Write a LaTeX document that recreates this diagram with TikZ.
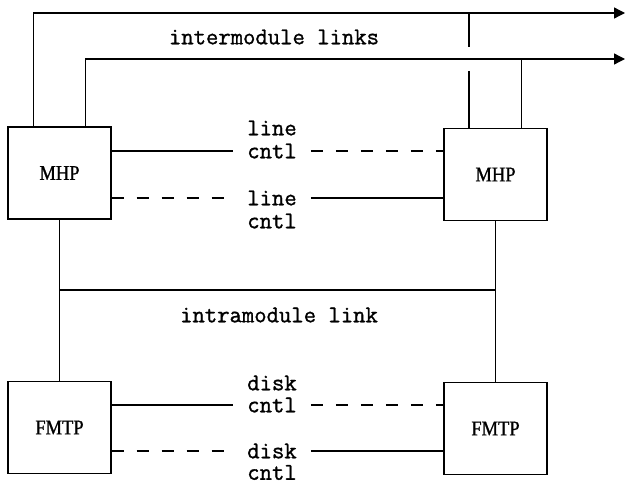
\documentclass[tikz,border=0pt]{standalone}
\usepackage{fontspec}
\newfontfamily\boxfont[FakeStretch=0.88,FakeBold=1]{Liberation Serif}
\newfontfamily\labelfont[FakeBold=1.2]{Latin Modern Mono}
\usetikzlibrary{arrows.meta}
\begin{document}
\begin{tikzpicture}[x=1pt,y=-1pt,
  unit/.style={draw, line width=1.3pt, minimum width=103pt, minimum height=92pt,
    inner sep=0pt, font=\boxfont\fontsize{21}{24}\selectfont},
  lbl/.style={font=\labelfont\fontsize{24}{28}\selectfont, inner ysep=0pt, inner xsep=14pt},
  wire/.style={line width=1.3pt},
  ctl/.style={wire, dash pattern=on 12pt off 13pt},
  link/.style={wire, -{Triangle[length=11pt,width=11pt]}}]
\useasboundingbox (0,0) rectangle (626,484);

% processors
\node[unit] (mhpL)  at (59.5,173)   {MHP};
\node[unit] (mhpR)  at (495.5,174.5){MHP};
\node[unit] (fmtpL) at (59.5,427.5) {FMTP};
\node[unit] (fmtpR) at (495.5,428.5){FMTP};

% reference levels
\coordinate (lo) at (0,59);
\coordinate (bus) at (0,290);
\coordinate (tipHi) at (625,13);
\coordinate (tipLo) at (625,59);
\coordinate (tapHi) at (469,13);
\coordinate (gapHi) at (469,47);
\coordinate (gapLo) at (469,71);

% labels
\node[lbl] at (274,37) {intermodule links};
\node[lbl] at (279,315) {intramodule link};
\node[lbl] (l1) at (272,128) {line};
\node[lbl] (c1) at (272,151) {cntl};
\node[lbl] (l2) at (272,198) {line};
\node[lbl] (c2) at (272,221) {cntl};
\node[lbl] (d1) at (272,383) {disk};
\node[lbl] (k1) at (272,405) {cntl};
\node[lbl] (d2) at (272,451) {disk};
\node[lbl] (k2) at (272,472.5) {cntl};

% intermodule links
\draw[link] ([xshift=26pt]mhpL.north west) |- (tipHi);
\draw[link] ([xshift=78pt]mhpL.north west) |- (tipLo);
\draw[wire] (tapHi) -- (gapHi);
\draw[wire] (gapLo) -- (mhpR.north west -| gapLo);
\draw[wire] ([xshift=78pt]mhpR.north west) coordinate (r2) -- (r2 |- lo);

% line control
\draw[wire] (mhpL.east |- c1) -- (c1.west);
\draw[ctl]  (c1.east) -- (mhpR.west |- c1);
\draw[ctl]  (mhpL.east |- l2) -- (l2.west);
\draw[wire] (l2.east) -- (mhpR.west |- l2);

% intramodule link
\draw[wire] (mhpL) -- (fmtpL);
\draw[wire] (mhpR) -- (fmtpR);
\draw[wire] (mhpL.south |- bus) -- (mhpR.south |- bus);

% disk control
\draw[wire] (fmtpL.east |- k1) -- (k1.west);
\draw[ctl]  (k1.east) -- (fmtpR.west |- k1);
\draw[ctl]  (fmtpL.east |- d2) -- (d2.west);
\draw[wire] (d2.east) -- (fmtpR.west |- d2);
\end{tikzpicture}
\end{document}
